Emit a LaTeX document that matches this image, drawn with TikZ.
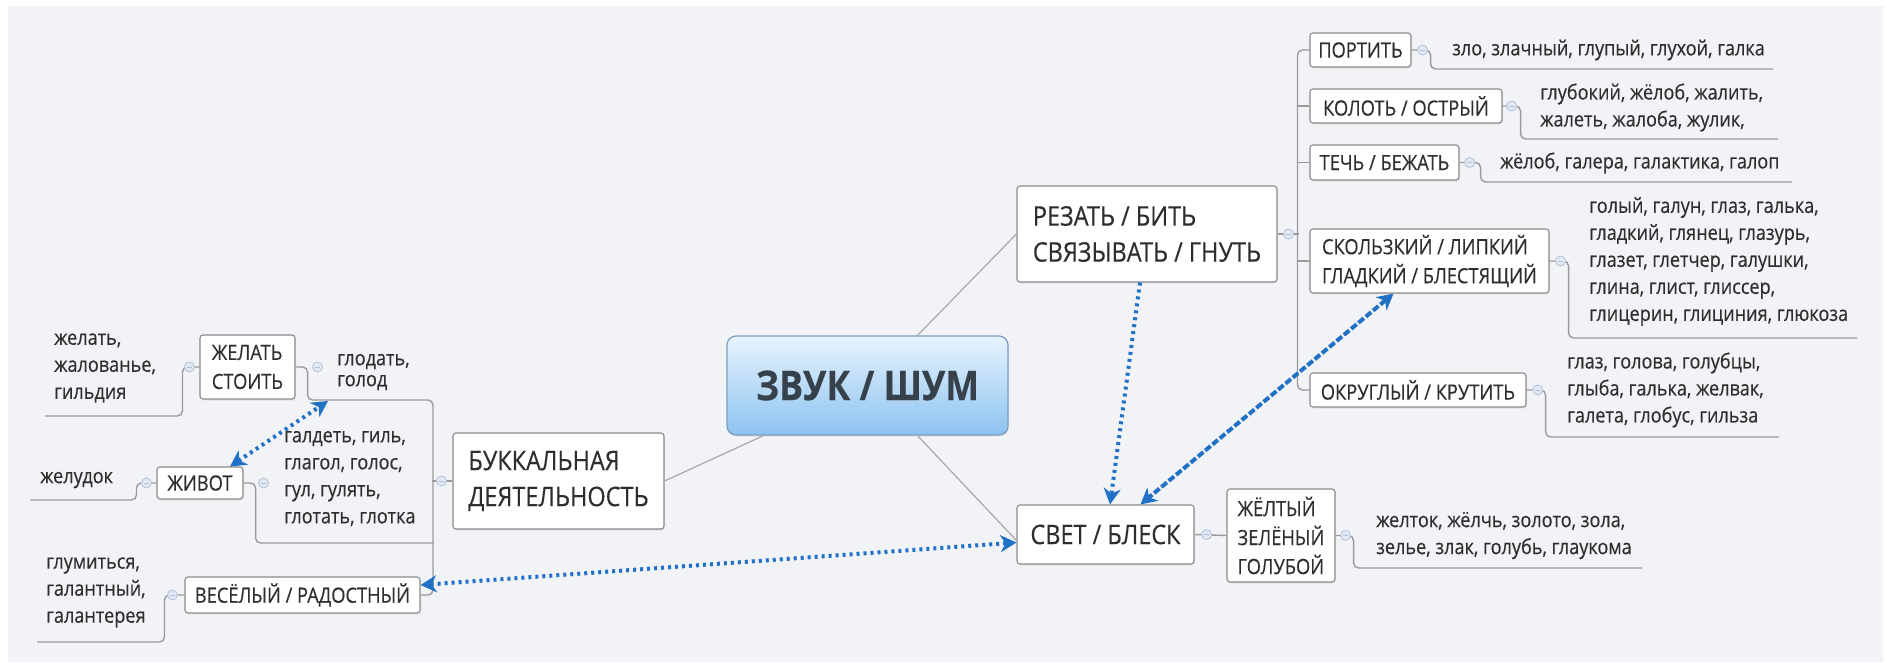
\documentclass[tikz,border=0pt]{standalone}
\usepackage{fontspec}
\setmainfont{Open Sans}[FakeStretch=0.87, FakeBold=0.35]
\usetikzlibrary{arrows.meta,calc,shadows}
\definecolor{bg}{HTML}{F2F3F7}
\definecolor{boxc}{HTML}{8A8A8A}
\definecolor{linec}{HTML}{9A9A9A}
\definecolor{txt}{HTML}{2E2E2E}
\definecolor{knobc}{HTML}{B3C2D8}
\definecolor{knobf}{HTML}{E2E9F4}
\definecolor{relc}{HTML}{2171C6}
\definecolor{ctop}{HTML}{E8F4FF}
\definecolor{cbot}{HTML}{8CC2EF}
\definecolor{cbrd}{HTML}{7D9DBD}
\definecolor{ctxt}{HTML}{36414C}
\begin{document}
\begin{tikzpicture}[x=1pt,y=-1pt,
  box/.style={draw=boxc, fill=white, rounded corners=3pt, line width=1.1pt, inner sep=0pt, align=left, text=txt,
    drop shadow={opacity=0.12, shadow xshift=1pt, shadow yshift=-1.5pt}},
  sub/.style={box, font=\fontsize{21}{29}\selectfont},
  maint/.style={box, font=\fontsize{27}{36}\selectfont},
  central/.style={draw=cbrd, line width=1.2pt, rounded corners=9pt, top color=ctop, bottom color=cbot,
    inner sep=0pt, text=ctxt, font=\bfseries\fontsize{41}{41}\selectfont,
    drop shadow={opacity=0.15, shadow xshift=1pt, shadow yshift=-1.5pt}},
  words/.style={anchor=west, align=left, inner sep=0pt, text=txt, font=\fontsize{20.8}{27}\selectfont},
  conn/.style={draw=linec, line width=1.4pt, rounded corners=5pt},
  conn2/.style={draw=linec!85, line width=1.2pt},
  knob/.style={circle, draw=knobc, fill=knobf, minimum size=10pt, inner sep=0pt, line width=0.8pt,
    path picture={\draw[knobc, line width=0.7pt] ([xshift=-2.5pt]path picture bounding box.center) -- ([xshift=2.5pt]path picture bounding box.center);}},
  tip/.tip={Stealth[length=16pt,width=17pt,inset=5pt]},
  rel/.style={draw=relc, line width=4pt, dash pattern=on 3pt off 4pt},
  reldash/.style={draw=relc, line width=4pt, dash pattern=on 7pt off 2.5pt}
]
\fill[white] (0,0) rectangle (1887,662);
\fill[bg] (8,6) rectangle (1883,662);
\useasboundingbox (0,0) rectangle (1887,662);

% ---------- nodes ----------
\node[central, minimum width=281pt, minimum height=99pt] (c) at (867.5,385.5) {ЗВУК / ШУМ};
\node[maint, minimum width=260pt, minimum height=96pt] (rez) at (1147,234) {РЕЗАТЬ / БИТЬ\\СВЯЗЫВАТЬ / ГНУТЬ};
\node[maint, minimum width=177pt, minimum height=59pt] (svet) at (1105.5,534.5) {СВЕТ / БЛЕСК};
\node[maint, minimum width=211pt, minimum height=96pt] (buk) at (558.5,481) {БУККАЛЬНАЯ\\ДЕЯТЕЛЬНОСТЬ};
\node[sub, minimum width=108pt, minimum height=93pt] (zhelt) at (1281,535.5) {ЖЁЛТЫЙ\\ЗЕЛЁНЫЙ\\ГОЛУБОЙ};
\node[sub, minimum width=101pt, minimum height=34pt] (port) at (1360.5,50) {ПОРТИТЬ};
\node[sub, minimum width=192pt, minimum height=34pt] (kol) at (1406,106) {КОЛОТЬ / ОСТРЫЙ};
\node[sub, minimum width=149pt, minimum height=35pt] (tech) at (1384.5,162.5) {ТЕЧЬ / БЕЖАТЬ};
\node[sub, minimum width=239pt, minimum height=64pt] (skol) at (1429.5,261) {СКОЛЬЗКИЙ / ЛИПКИЙ\\ГЛАДКИЙ / БЛЕСТЯЩИЙ};
\node[sub, minimum width=216pt, minimum height=34pt] (okr) at (1418,390) {ОКРУГЛЫЙ / КРУТИТЬ};
\node[sub, minimum width=95pt, minimum height=64pt] (zhelat) at (247.5,367) {ЖЕЛАТЬ\\СТОИТЬ};
\node[sub, minimum width=86pt, minimum height=32pt] (zhivot) at (200,483) {ЖИВОТ};
\node[sub, minimum width=235pt, minimum height=36pt] (vesel) at (302.5,595) {ВЕСЁЛЫЙ / РАДОСТНЫЙ};

\node[words] (w1) at (1452,50) {зло, злачный, глупый, глухой, галка};
\node[words] (w2) at (1540,107.5) {глубокий, жёлоб, жалить,\\жалеть, жалоба, жулик,};
\node[words] (w3) at (1500,163) {жёлоб, галера, галактика, галоп};
\node[words] (w4) at (1589,261.5) {голый, галун, глаз, галька,\\гладкий, глянец, глазурь,\\глазет, глетчер, галушки,\\глина, глист, глиссер,\\глицерин, глициния, глюкоза};
\node[words] (w5) at (1567,390) {глаз, голова, голубцы,\\глыба, галька, желвак,\\галета, глобус, гильза};
\node[words] (w6) at (1376,535.5) {желток, жёлчь, золото, зола,\\зелье, злак, голубь, глаукома};
\node[words] (w7) at (54,368) {желать,\\жалованье,\\гильдия};
\node[words, font=\fontsize{20.8}{21}\selectfont] (w8) at (337,372) {глодать,\\голод};
\node[words] (w9) at (284,478.5) {галдеть, гиль,\\глагол, голос,\\гул, гулять,\\глотать, глотка};
\node[words] (w10) at (40,480) {желудок};
\node[words] (w11) at (46,592.5) {глумиться,\\галантный,\\галантерея};

% underline ends / free ends
\coordinate (u1) at (1773,69);
\coordinate (u2) at (1778,139);
\coordinate (u3) at (1792,182);
\coordinate (u4) at (1857,338);
\coordinate (u5) at (1779,437);
\coordinate (u6) at (1642,568);
\coordinate (u7) at (45,416);
\coordinate (u8) at (433,400);
\coordinate (u9) at (433,543);
\coordinate (u10) at (30,500);
\coordinate (u11) at (37,642);
\coordinate (glx) at (328,401);

% ---------- tree connectors ----------
\draw[conn2] ([xshift=50pt]c.north) -- (rez.west);
\draw[conn2] ([xshift=50pt]c.south) -- ([yshift=-6pt]svet.west);
\draw[conn2] ([xshift=-104pt]c.south) -- (buk.east);

\draw[conn] (rez.east) -- ++(21,0);
\draw[conn] (port.west) -- ++(-12,0) |- (okr.west);
\draw[conn] (kol.west) -- ++(-12,0);
\draw[conn] (tech.west) -- ++(-12,0);
\draw[conn] (skol.west) -- ++(-12,0);

\draw[conn] (port.east) -- ++(19,0) |- (u1);
\draw[conn] (kol.east) -- ++(18,0) |- (u2);
\draw[conn] (tech.east) -- ++(21,0) |- (u3);
\draw[conn] (skol.east) -- ++(19,0) |- (u4);
\draw[conn] (okr.east) -- ++(19,0) |- (u5);
\draw[conn] (zhelt.east) -- ++(18,0) |- (u6);
\draw[conn] (svet.east) -- (zhelt.west);

\draw[conn] (zhelat.west) -- ++(-17,0) |- (u7);
\draw[conn] (zhelat.east) -- ++(12,0) |- (u8) |- (vesel.east);
\draw[conn] (buk.west) -- ++(-20,0);
\draw[conn] (zhivot.east) -- ++(12,0) |- (u9);
\draw[conn] (zhivot.west) -- ++(-20,0) |- (u10);
\draw[conn] (vesel.west) -- ++(-20,0) |- (u11);

% knobs
\node[knob] (k1) at ($(port.east)+(11,0)$) {};
\node[knob] (k2) at ($(kol.east)+(9,0)$) {};
\node[knob] (k3) at ($(tech.east)+(10,0)$) {};
\node[knob] (k4) at ($(skol.east)+(11,0)$) {};
\node[knob] (k5) at ($(okr.east)+(11,0)$) {};
\node[knob] (k6) at ($(zhelt.east)+(10,0)$) {};
\node[knob] (k7) at ($(svet.east)+(12,0)$) {};
\node[knob] (k8) at ($(rez.east)+(11,0)$) {};
\node[knob] (k9) at ($(zhelat.west)+(-10,0)$) {};
\node[knob] (k10) at ($(zhelat.east)+(22,0)$) {};
\node[knob] (k11) at ($(buk.west)+(-11,0)$) {};
\node[knob] (k12) at ($(zhivot.east)+(20,0)$) {};
\node[knob] (k13) at ($(zhivot.west)+(-10,0)$) {};
\node[knob] (k14) at ($(vesel.west)+(-12,0)$) {};

% ---------- relations ----------
\draw[rel, tip-tip] ([xshift=30pt]zhivot.north) -- (glx);
\draw[rel, tip-tip] ([yshift=10pt]vesel.east) -- ([yshift=-8pt]svet.west);
\draw[rel, -tip] ([xshift=-7pt]rez.south) -- ([xshift=4.5pt]svet.north);
\draw[reldash, tip-tip] ([xshift=-36pt]skol.south) -- ([xshift=35pt]svet.north);
\end{tikzpicture}
\end{document}
